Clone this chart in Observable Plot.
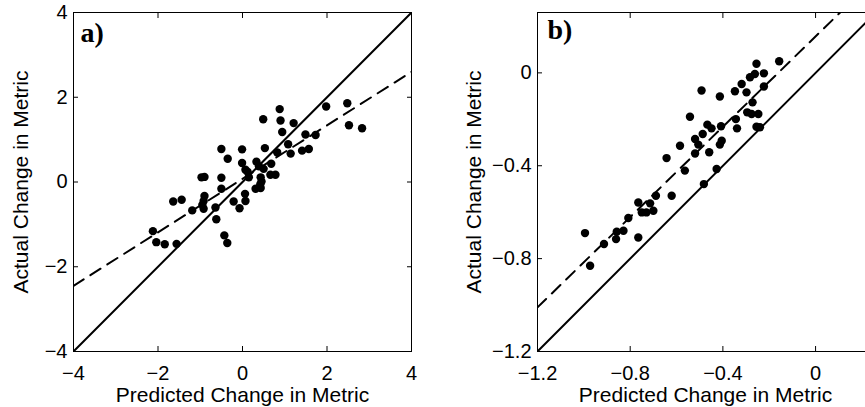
<!DOCTYPE html>
<html>
<head>
<meta charset="utf-8">
<script src="https://cdn.jsdelivr.net/npm/d3@7"></script>
<script src="https://cdn.jsdelivr.net/npm/@observablehq/plot@0.6"></script>
<style>
  html, body { margin: 0; padding: 0; background: #fff; overflow: hidden; }
  #wrap { display: flex; flex-direction: row; width: 880px; }
  svg { display: block; overflow: hidden; }
</style>
</head>
<body>
<div id="wrap"></div>
<script>
// ---------- Panel a data ----------
const aPredicted = [-2.12,-2.04,-1.84,-1.56,-1.64,-1.44,-1.19,-0.97,-0.90,-0.90,-0.92,-0.95,-0.92,-0.64,-0.62,-0.50,-0.50,-0.50,-0.35,-0.43,-0.36,-0.21,-0.07,-0.01,-0.01,0.07,0.06,0.07,0.15,0.31,0.43,0.45,0.33,0.39,0.50,0.43,0.49,0.53,0.66,0.78,0.68,0.82,0.88,0.90,0.94,1.08,1.14,1.21,1.41,1.57,1.49,1.73,1.98,2.48,2.52,2.83,0.12,0.42];
const aActual    = [-1.16,-1.42,-1.47,-1.46,-0.46,-0.42,-0.67,0.11,0.12,-0.33,-0.45,-0.54,-0.63,-0.60,-0.88,0.78,0.10,-0.16,0.55,-1.26,-1.44,-0.46,-0.62,0.77,0.45,0.29,-0.28,-0.45,0.11,-0.16,-0.14,0.01,0.48,0.37,0.31,0.11,1.48,0.80,0.17,0.17,0.43,0.70,1.72,1.45,1.18,0.89,0.67,1.39,0.74,0.78,1.12,1.11,1.78,1.86,1.34,1.27,0.24,-0.06];
const aIdentityX = [-4, 4];
const aIdentityY = [-4, 4];
const aFitX = [-4, 4];
const aFitY = [-2.45, 2.6];
const aTicks = [-4, -2, 0, 2, 4];

// ---------- Panel b data ----------
const bPredicted = [-0.995,-0.973,-0.913,-0.858,-0.861,-0.829,-0.808,-0.765,-0.765,-0.750,-0.730,-0.714,-0.700,-0.689,-0.643,-0.621,-0.585,-0.564,-0.542,-0.520,-0.520,-0.506,-0.492,-0.487,-0.482,-0.467,-0.459,-0.449,-0.427,-0.413,-0.408,-0.405,-0.413,-0.348,-0.344,-0.339,-0.319,-0.298,-0.295,-0.283,-0.272,-0.262,-0.255,-0.247,-0.255,-0.240,-0.223,-0.223,-0.157,-0.276];
const bActual    = [-0.690,-0.831,-0.737,-0.684,-0.716,-0.680,-0.625,-0.558,-0.709,-0.601,-0.601,-0.562,-0.594,-0.529,-0.367,-0.529,-0.314,-0.421,-0.189,-0.285,-0.347,-0.309,-0.076,-0.263,-0.479,-0.223,-0.342,-0.239,-0.414,-0.102,-0.230,-0.292,-0.309,-0.079,-0.199,-0.239,-0.048,-0.084,-0.170,-0.019,-0.127,-0.005,0.039,-0.177,-0.232,-0.234,-0.002,-0.059,0.050,-0.177];
const bIdentityX = [-1.2, 0.25];
const bIdentityY = [-1.2, 0.25];
const bFitX = [-1.2, 0.25];
const bFitY = [-1.01, 0.40];
const bTicks = [-1.2, -0.8, -0.4, 0];

const xLabel = "Predicted Change in Metric";
const yLabel = "Actual Change in Metric";

const FONT = "'Liberation Sans', Arial, Helvetica, sans-serif";
const fmt = d => (d < 0 ? "\u2212" : "") + String(Math.abs(d));

function panel({pred, act, idX, idY, fitX, fitY, ticks, xDomain, yDomain, width, marginLeft, marginRight, tag, tagDy, tagDx, yLabelOffset}) {
  const pts = pred.map((p, i) => ({p, a: act[i]}));
  const ident = idX.map((x, i) => ({x, y: idY[i]}));
  const fit = fitX.map((x, i) => ({x, y: fitY[i]}));
  const tickOpts = {ticks, tickSize: -5, stroke: "black"};
  return Plot.plot({
    width, height: 407,
    marginLeft, marginRight, marginTop: 12, marginBottom: 56,
    style: {fontFamily: FONT, fontSize: "20px", color: "black", background: "white"},
    x: {domain: xDomain},
    y: {domain: yDomain},
    marks: [
      Plot.line(ident, {x: "x", y: "y", stroke: "black", strokeWidth: 2, clip: true}),
      Plot.line(fit, {x: "x", y: "y", stroke: "black", strokeWidth: 2, strokeDasharray: "12,8", clip: true}),
      Plot.dot(pts, {x: "p", y: "a", r: 4.2, fill: "black", stroke: "none"}),
      Plot.frame({stroke: "black", strokeWidth: 1}),
      Plot.axisX({...tickOpts, anchor: "bottom", tickPadding: 19, tickFormat: fmt, label: xLabel, labelAnchor: "center", labelOffset: 50, fontSize: 20}),
      Plot.axisX({...tickOpts, anchor: "top", tickFormat: () => "", label: null}),
      Plot.axisY({...tickOpts, anchor: "left", tickPadding: 11, tickFormat: fmt, label: yLabel, labelAnchor: "center", labelOffset: yLabelOffset, fontSize: 20}),
      Plot.axisY({...tickOpts, anchor: "right", tickFormat: () => "", label: null}),
      Plot.text([tag], {frameAnchor: "top-left", text: d => d, dx: tagDx, dy: tagDy, lineAnchor: "top", textAnchor: "start",
        fontFamily: "'Liberation Serif', 'DejaVu Serif', serif", fontWeight: "bold", fontSize: 28, fill: "black"})
    ]
  });
}

const pa = panel({pred: aPredicted, act: aActual, idX: aIdentityX, idY: aIdentityY, fitX: aFitX, fitY: aFitY,
  ticks: aTicks, xDomain: [-4, 4], yDomain: [-4, 4], width: 432, marginLeft: 73, marginRight: 21,
  tag: "a)", tagDx: 7, tagDy: 10, yLabelOffset: 60});
const pb = panel({pred: bPredicted, act: bActual, idX: bIdentityX, idY: bIdentityY, fitX: bFitX, fitY: bFitY,
  ticks: bTicks, xDomain: [-1.2, 0.25], yDomain: [-1.2, 0.26], width: 441, marginLeft: 105, marginRight: 0,
  tag: "b)", tagDx: 10, tagDy: 7, yLabelOffset: 71});

document.getElementById("wrap").append(pa, pb);
// axis label font sizes, and drop the automatic direction arrows
for (const svg of [pa, pb]) {
  svg.querySelectorAll("g[aria-label='x-axis label'] text, g[aria-label='y-axis label'] text").forEach(t => {
    t.setAttribute("font-size", "21");
    t.textContent = t.textContent.replace(/\s*[\u2190-\u2193]\s*/g, "").trim();
  });
}
</script>
</body>
</html>
